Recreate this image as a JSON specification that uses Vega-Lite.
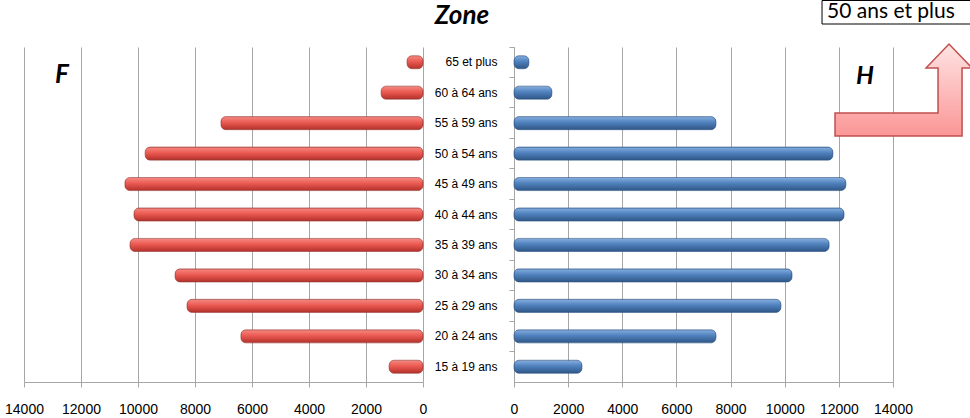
{
  "$schema": "https://vega.github.io/schema/vega-lite/v6.json",
  "background": "white",
  "padding": {"left": 4, "top": 0, "right": 0, "bottom": 0},
  "spacing": 91,
  "bounds": "flush",
  "config": {
    "view": {"stroke": null},
    "axis": {
      "labelFont": "Liberation Sans",
      "labelColor": "#000000",
      "gridColor": "#a6a6a6",
      "domainColor": "#a6a6a6",
      "tickColor": "#a6a6a6",
      "title": null
    }
  },
  "datasets": {
    "pop": [
      {"age": "65 et plus", "F": 560, "H": 550},
      {"age": "60 à 64 ans", "F": 1470, "H": 1400},
      {"age": "55 à 59 ans", "F": 7090, "H": 7460},
      {"age": "50 à 54 ans", "F": 9750, "H": 11780},
      {"age": "45 à 49 ans", "F": 10460, "H": 12260},
      {"age": "40 à 44 ans", "F": 10140, "H": 12190},
      {"age": "35 à 39 ans", "F": 10280, "H": 11640},
      {"age": "30 à 34 ans", "F": 8700, "H": 10270},
      {"age": "25 à 29 ans", "F": 8280, "H": 9860},
      {"age": "20 à 24 ans", "F": 6390, "H": 7460},
      {"age": "15 à 19 ans", "F": 1190, "H": 2510}
    ]
  },
  "hconcat": [
    {
      "width": 399,
      "height": 335,
      "resolve": {"scale": {"y": "independent"}},
      "layer": [
        {
          "data": {"name": "pop"},
          "mark": {
            "type": "bar",
            "height": {"band": 0.43},
            "cornerRadius": 5,
            "fill": {"gradient": "linear", "x1": 0, "y1": 0, "x2": 0, "y2": 1,
              "stops": [{"offset": 0, "color": "#f58a82"}, {"offset": 0.45, "color": "#eb5a52"}, {"offset": 1, "color": "#b3302a"}]},
            "stroke": "#9c3b37",
            "strokeWidth": 0.6
          },
          "encoding": {
            "y": {"field": "age", "type": "nominal", "sort": null,
              "scale": {"paddingInner": 0, "paddingOuter": 0}, "axis": null},
            "x": {"field": "F", "type": "quantitative",
              "scale": {"domain": [0, 14000], "reverse": true, "nice": false},
              "axis": {"values": [0, 2000, 4000, 6000, 8000, 10000, 12000, 14000], "grid": true,
                "labelFontSize": 14, "tickSize": 5, "labelPadding": 15, "format": "d", "labelFlush": false}}
          }
        },
        {
          "data": {"values": [{}]},
          "mark": {"type": "text", "text": "F", "font": "Lato", "fontSize": 26, "fontWeight": "bold", "fontStyle": "italic", "align": "center", "baseline": "middle", "color": "#000000"},
          "encoding": {
            "x": {"datum": 12667},
            "y": {"datum": 307, "type": "quantitative", "scale": {"domain": [0, 335], "nice": false, "zero": false}, "axis": null}
          }
        },
        {
          "data": {"values": [{}]},
          "mark": {"type": "text", "text": "Zone", "font": "Lato", "fontSize": 26, "fontWeight": "bold", "fontStyle": "italic", "align": "center", "baseline": "middle", "color": "#000000"},
          "encoding": {
            "x": {"datum": -1368},
            "y": {"datum": 366, "type": "quantitative", "scale": {"domain": [0, 335], "nice": false, "zero": false}, "axis": null}
          }
        }
      ]
    },
    {
      "width": 379,
      "height": 335,
      "resolve": {"scale": {"y": "independent"}},
      "layer": [
        {
          "data": {"name": "pop"},
          "mark": {
            "type": "bar",
            "height": {"band": 0.43},
            "cornerRadius": 5,
            "fill": {"gradient": "linear", "x1": 0, "y1": 0, "x2": 0, "y2": 1,
              "stops": [{"offset": 0, "color": "#86afe0"}, {"offset": 0.45, "color": "#4f81bd"}, {"offset": 1, "color": "#2f5686"}]},
            "stroke": "#2f5686",
            "strokeWidth": 0.6
          },
          "encoding": {
            "y": {"field": "age", "type": "nominal", "sort": null,
              "scale": {"paddingInner": 0, "paddingOuter": 0},
              "axis": {"labelFontSize": 12, "tickSize": 5, "labelPadding": 12, "bandPosition": 0, "labelAlign": "right"}},
            "x": {"field": "H", "type": "quantitative",
              "scale": {"domain": [0, 14000], "nice": false},
              "axis": {"values": [0, 2000, 4000, 6000, 8000, 10000, 12000, 14000], "grid": true,
                "labelFontSize": 14, "tickSize": 5, "labelPadding": 15, "format": "d", "labelFlush": false}}
          }
        },
        {
          "data": {"values": [{}]},
          "mark": {"type": "text", "text": "H", "font": "Lato", "fontSize": 25, "fontWeight": "bold", "fontStyle": "italic", "align": "center", "baseline": "middle", "color": "#000000"},
          "encoding": {
            "x": {"datum": 12966},
            "y": {"datum": 306, "type": "quantitative", "scale": {"domain": [0, 335], "nice": false, "zero": false}, "axis": null}
          }
        },
        {
          "data": {"values": [{}]},
          "mark": {"type": "rect", "fill": "#ffffff", "stroke": "#000000", "strokeWidth": 1},
          "encoding": {
            "x": {"datum": 11378},
            "x2": {"datum": 17030},
            "y": {"datum": 381.5, "type": "quantitative", "scale": {"domain": [0, 335], "nice": false, "zero": false}, "axis": null},
            "y2": {"datum": 358}
          }
        },
        {
          "data": {"values": [{}]},
          "mark": {"type": "text", "text": "50 ans et plus", "font": "Lato", "fontSize": 21, "align": "left", "baseline": "alphabetic", "color": "#000000"},
          "encoding": {
            "x": {"datum": 11563},
            "y": {"datum": 364, "type": "quantitative", "scale": {"domain": [0, 335], "nice": false, "zero": false}, "axis": null}
          }
        },
        {
          "data": {"values": [{}]},
          "mark": {
            "type": "point",
            "filled": true,
            "shape": "M-1,0.333L0.493,0.333L0.493,-0.319L0.319,-0.319L0.652,-0.667L0.986,-0.319L0.841,-0.319L0.841,0.667L-1,0.667Z",
            "size": 19044,
            "opacity": 1,
            "fill": {"gradient": "linear", "x1": 0, "y1": 0, "x2": 0, "y2": 1,
              "stops": [{"offset": 0, "color": "#ffe3e3"}, {"offset": 1, "color": "#fb9696"}]},
            "stroke": "#c0504d",
            "strokeWidth": 1.5
          },
          "encoding": {
            "x": {"datum": 14407},
            "y": {"datum": 292, "type": "quantitative", "scale": {"domain": [0, 335], "nice": false, "zero": false}, "axis": null}
          }
        }
      ]
    }
  ]
}
